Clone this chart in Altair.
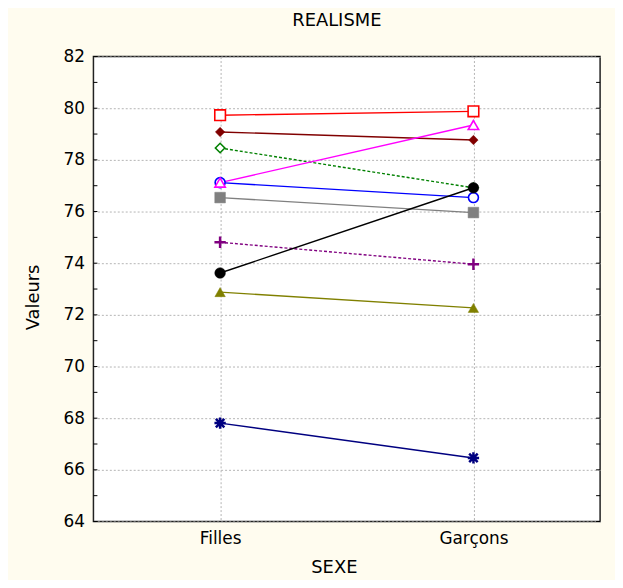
import altair as alt
import pandas as pd

sexe = ["Filles", "Garçons"]
series = ["S1", "S2", "S3", "S4", "S5", "S6", "S7", "S8", "S9", "S10"]
v_s1 = [79.73, 79.88]   # red open square
v_s2 = [79.08, 78.77]   # dark red diamond
v_s3 = [78.46, 76.92]   # green open diamond, dotted
v_s4 = [77.12, 76.54]   # blue open circle
v_s5 = [77.12, 79.35]   # magenta open triangle
v_s6 = [76.54, 75.96]   # gray square
v_s7 = [74.81, 73.96]   # purple plus, dotted
v_s8 = [73.62, 76.92]   # black circle
v_s9 = [72.88, 72.27]   # olive triangle
v_s10 = [67.81, 66.46]  # navy asterisk
all_values = [v_s1, v_s2, v_s3, v_s4, v_s5, v_s6, v_s7, v_s8, v_s9, v_s10]
y_ticks = list(range(64, 83))
y_labels = list(range(64, 83, 2))

rows = []
for name, vals in zip(series, all_values):
    for s, v in zip(sexe, vals):
        rows.append({"serie": name, "sexe": s, "valeur": v})
df = pd.DataFrame(rows)
ticks_df = pd.DataFrame({"valeur": y_ticks})

PLUS = "M-1,0L1,0M0,-1L0,1"
AST = "M-1,0L1,0M0,-1L0,1M-0.75,-0.75L0.75,0.75M-0.75,0.75L0.75,-0.75"

# color, shape, open marker, dash, size
styles = {
    "S1": ("#FF0000", "square", "open", None, 115),
    "S2": ("#800000", "diamond", "fill", None, 90),
    "S3": ("#008000", "diamond", "open", [3, 2], 90),
    "S4": ("#0000FF", "circle", "open", None, 100),
    "S5": ("#FF00FF", "triangle-up", "open", None, 110),
    "S6": ("#808080", "square", "fill", None, 115),
    "S7": ("#800080", PLUS, "path", [3, 2], 130),
    "S8": ("#000000", "circle", "fill", None, 115),
    "S9": ("#808000", "triangle-up", "fill", None, 110),
    "S10": ("#000080", AST, "path", None, 130),
}

x_enc = alt.X(
    "sexe:N",
    sort=sexe,
    scale=alt.Scale(type="point", domain=sexe, padding=0.5),
    axis=alt.Axis(
        title="SEXE", labelPadding=9, labelAngle=0, grid=True,
        titleX=242, titleY=51, titleAlign="center", titleBaseline="alphabetic",
    ),
)
y_enc = alt.Y(
    "valeur:Q",
    scale=alt.Scale(domain=[64, 82], nice=False, zero=False),
    axis=alt.Axis(
        title="Valeurs", values=y_labels, labelPadding=9, grid=True,
        titleX=-60, titleY=242, titleAngle=270, titleAlign="center",
        titleBaseline="middle",
    ),
)

layers = []
tick_left = alt.Chart(ticks_df).mark_rule(color="#000000", strokeWidth=1).encode(
    y=y_enc, x=alt.value(0), x2=alt.value(4)
)
tick_right = alt.Chart(ticks_df).mark_rule(color="#000000", strokeWidth=1).encode(
    y=y_enc, x=alt.value(506), x2=alt.value(510)
)
layers += [tick_left, tick_right]

order = ["S10", "S9", "S6", "S7", "S2", "S1", "S3", "S4", "S5", "S8"]
for name in order:
    color, shape, kind, dash, size = styles[name]
    base = alt.Chart(df).transform_filter(alt.datum.serie == name)
    line_kw = dict(color=color, strokeWidth=1.4)
    if dash:
        line_kw["strokeDash"] = dash
    layers.append(base.mark_line(**line_kw).encode(x=x_enc, y=y_enc))
for name in order:
    color, shape, kind, dash, size = styles[name]
    base = alt.Chart(df).transform_filter(alt.datum.serie == name)
    if kind == "open":
        pt = base.mark_point(shape=shape, filled=True, fill="#FFFFFF", stroke=color,
                             strokeWidth=1.6, size=size, opacity=1)
    elif kind == "fill":
        pt = base.mark_point(shape=shape, filled=True, fill=color, stroke=color,
                             strokeWidth=0.5, size=size, opacity=1)
    else:
        pt = base.mark_point(shape=shape, filled=False, stroke=color,
                             strokeWidth=2.5, size=size, opacity=1)
    layers.append(pt.encode(x=x_enc, y=y_enc))

chart = alt.layer(*layers).properties(
    width=510,
    height=468,
    title=alt.TitleParams("REALISME", font="DejaVu Sans", fontSize=18,
                          fontWeight="normal", color="#000000", anchor="middle",
                          dx=-10, offset=18),
    padding={"left": 86, "top": 47, "right": 15, "bottom": 57},
    autosize=alt.AutoSizeParams(type="none"),
    background="#FFFCEF",
).configure_view(
    fill="#FFFFFF", stroke="#222222", strokeWidth=1.5
).configure_axis(
    domain=False, ticks=False,
    gridColor="#B4B4B4", gridDash=[2, 2], gridWidth=1,
    labelFont="DejaVu Sans", labelFontSize=17, labelColor="#000000",
    titleFont="DejaVu Sans", titleFontSize=18, titleFontWeight="normal",
    titleColor="#000000",
)

chart.save("out.html", embed_options={"renderer": "svg", "actions": False})
